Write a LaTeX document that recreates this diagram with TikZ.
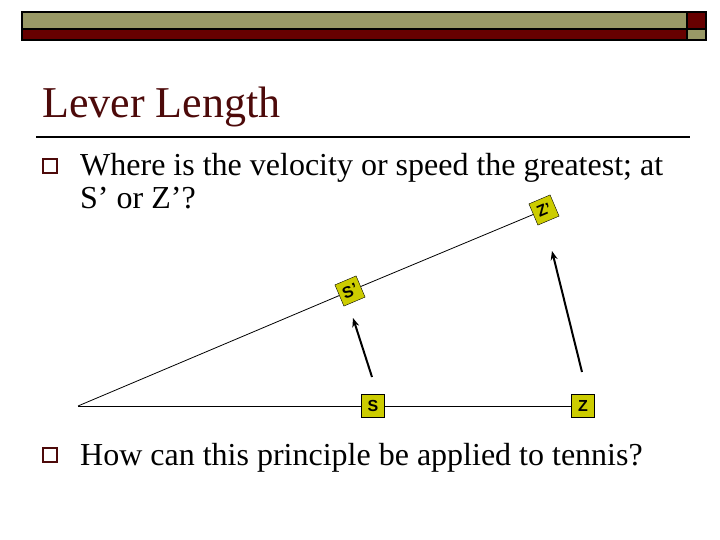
\documentclass[tikz,border=0pt]{standalone}
\usepackage{fontspec}
\setmainfont{Liberation Serif}
\newfontfamily\boxfont{Liberation Sans}
\usetikzlibrary{arrows.meta,positioning}

\definecolor{barolive}{RGB}{153,153,102}
\definecolor{barred}{RGB}{102,0,0}
\definecolor{titlered}{RGB}{77,10,10}
\definecolor{boxyellow}{RGB}{204,204,0}

\begin{document}
\begin{tikzpicture}[x=1pt, y=-1pt,
    bar/.style={draw=black, line width=1.5pt},
    bullet/.style={draw=titlered, line width=1.4pt, minimum size=14pt, inner sep=0pt},
    body/.style={font=\fontsize{32}{32}\selectfont, anchor=base west, inner sep=0pt},
    pointbox/.style={draw=black, fill=boxyellow, minimum size=23pt, inner sep=0pt, font=\boxfont\bfseries\fontsize{16}{16}\selectfont},
    arrow/.style={line width=2pt, -{Stealth[length=9pt, width=7pt]}}]

        \useasboundingbox (0,0) rectangle (720,540);

        % header bar
        \fill[barolive] (22,12) rectangle (687,29);
        \fill[barred] (687,12) rectangle (706,29);
        \fill[barred] (22,29) rectangle (687,40);
        \fill[barolive] (687,29) rectangle (706,40);
        \draw[bar] (22,12) rectangle (706,40);
        \draw[bar] (22,29) -- (706,29);
        \draw[bar] (687,12) -- (687,40);

        % title
        \node (title) [anchor=base west, inner sep=0pt, text=titlered, font=\fontsize{44}{44}\selectfont] at (42,118) {Lever Length};
        \draw[line width=2pt] (36,137) -- (690,137);

        % bullets
        \node (bulletA) [bullet] at (50,166) {};
        \node (textA) [body] at (80,176) {Where is the velocity or speed the greatest; at};
        \node (textA2) [body] at (80,208) {S’ or Z’?};
        \node (bulletB) [bullet] at (50,455) {};
        \node (textB) [body] at (80,465) {How can this principle be applied to tennis?};

        % lever
        \coordinate (pivot) at (78,406);
        \node (S) [pointbox] at (373,406) {S};
        \node (Z) [pointbox] at (583,406) {Z};
        \node (Sp) [pointbox, rotate=23] at (350,291) {S’};
        \node (Zp) [pointbox, rotate=23] at (544,210) {Z’};

        \draw[line width=1pt] (pivot) -- (S) -- (Z);
        \draw[line width=0.8pt] (pivot) -- (Sp) -- (Zp);

        % velocity arrows
        \coordinate (Stail) at (372,377);
        \coordinate (Shead) at (353,318);
        \coordinate (Ztail) at (582,372);
        \coordinate (Zhead) at (552,251);
        \draw[arrow] (Stail) -- (Shead);
        \draw[arrow] (Ztail) -- (Zhead);

    \end{tikzpicture}
\end{document}
